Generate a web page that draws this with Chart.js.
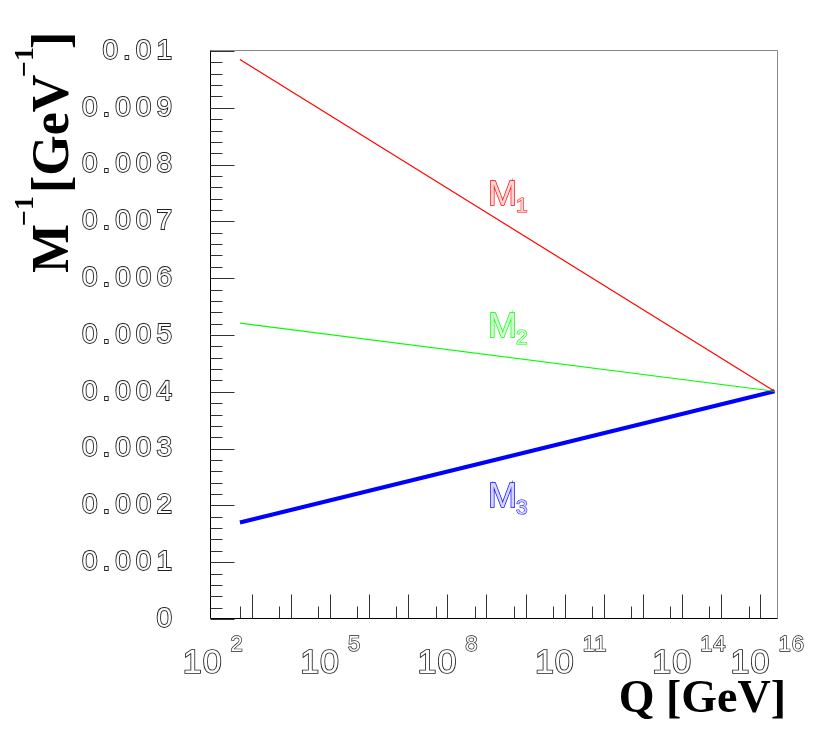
<!DOCTYPE html>
<html>
<head>
<meta charset="utf-8">
<script src="https://cdn.jsdelivr.net/npm/chart.js@4/dist/chart.umd.min.js"></script>
<style>
  html, body { margin: 0; padding: 0; background: #fff; }
</style>
</head>
<body>
<canvas id="chart" width="830" height="733"></canvas>
<script>
// Q in GeV, from the low scale up to the unification point
const qValues = [5e2, 2.3e16];
// inverse gaugino masses in GeV^-1
const m1Inv = [0.00985, 0.00401];
const m2Inv = [0.00521, 0.00401];
const m3Inv = [0.00170, 0.00401];

const seriesSubs = ['1', '2', '3'];
const seriesColors = ['#ff0000', '#00ff00', '#0000ff'];
const seriesFill = ['#ffd6d6', '#d2ffd2', '#d6d6ff'];
const seriesWidths = [1.2, 1.2, 4];

// where the M_i names sit (Q, M^-1 of the text baseline)
const labelQ = [1.09e9, 1.09e9, 1.09e9];
const labelInv = [0.00729, 0.004965, 0.00197];

const qMin = Math.pow(10, 1.96);
const qMax = Math.pow(10, 16.45);

const yTicks = [0, 0.001, 0.002, 0.003, 0.004, 0.005, 0.006, 0.007, 0.008, 0.009, 0.01];
const yTickLabels = ['0', '0.001', '0.002', '0.003', '0.004', '0.005', '0.006', '0.007', '0.008', '0.009', '0.01'];
const xLabelExps = [2, 5, 8, 11, 14, 16];
const xMajorExps = [3, 4, 5, 6, 7, 8, 9, 10, 11, 12, 13, 14, 15, 16];
const xMinorExps = [2, 3, 4, 5, 6, 7, 8, 9, 10, 11, 12, 13, 14, 15]; // 5 x 10^n

const SERIF = '"Liberation Serif", "Times New Roman", serif';
const SANS = '"Liberation Sans", Arial, sans-serif';

function hollowText(ctx, txt, x, y, stroke, fill, w) {
  ctx.lineWidth = w;
  ctx.strokeStyle = stroke;
  ctx.fillStyle = fill;
  ctx.strokeText(txt, x, y);
  ctx.fillText(txt, x, y);
}

const rootFrame = {
  id: 'rootFrame',
  beforeDraw(chart) {
    chart.ctx.letterSpacing = '5px';
  },
  afterDraw(chart) {
    const { ctx, chartArea: a, scales: { x, y } } = chart;
    ctx.save();
    ctx.letterSpacing = '0px';
    const L = a.left - 0.5, B = a.bottom - 0.5, T = a.top - 0.5, R = a.right - 0.5;

    // top and right sides of the frame
    ctx.lineWidth = 1;
    ctx.strokeStyle = '#888';
    ctx.beginPath();
    ctx.moveTo(L, T); ctx.lineTo(R, T); ctx.lineTo(R, B);
    ctx.stroke();

    // axes
    ctx.strokeStyle = '#000';
    ctx.beginPath();
    ctx.moveTo(L, T); ctx.lineTo(L, B); ctx.lineTo(R, B);
    ctx.stroke();

    // y ticks, pointing inward
    ctx.beginPath();
    for (let v = 0; v <= 0.01 + 1e-9; v += 0.0002) {
      const py = Math.round(y.getPixelForValue(v)) + 0.5;
      const major = Math.abs(v * 1000 - Math.round(v * 1000)) < 1e-6;
      ctx.moveTo(L, py);
      ctx.lineTo(L + (major ? 24 : 12), py);
    }
    // x ticks
    xMajorExps.forEach(e => {
      const px = Math.round(x.getPixelForValue(Math.pow(10, e))) + 0.5;
      ctx.moveTo(px, B); ctx.lineTo(px, B - 24);
    });
    xMinorExps.forEach(e => {
      const px = Math.round(x.getPixelForValue(5 * Math.pow(10, e))) + 0.5;
      ctx.moveTo(px, B); ctx.lineTo(px, B - 12);
    });
    ctx.strokeStyle = '#333';
    ctx.stroke();

    // x tick labels: 10 with raised exponent
    ctx.textBaseline = 'alphabetic';
    xLabelExps.forEach(e => {
      const px = x.getPixelForValue(Math.pow(10, e));
      ctx.letterSpacing = '1px';
      ctx.font = '34px ' + SANS;
      ctx.textAlign = 'right';
      hollowText(ctx, '10', px + 10, 673, '#222', '#fff', 1.7);
      ctx.font = '22px ' + SANS;
      ctx.textAlign = 'left';
      hollowText(ctx, String(e), px + 18, 651, '#222', '#fff', 1.4);
    });
    ctx.letterSpacing = '0px';

    // curve names
    labelQ.forEach((q, i) => {
      const px = x.getPixelForValue(q);
      const py = y.getPixelForValue(labelInv[i]);
      ctx.textAlign = 'left';
      ctx.font = '35px ' + SANS;
      hollowText(ctx, 'M', px, py, seriesColors[i], seriesFill[i], 1.4);
      ctx.font = '21px ' + SANS;
      hollowText(ctx, seriesSubs[i], px + 28, py + 7, seriesColors[i], seriesFill[i], 1.1);
    });

    // axis titles
    ctx.fillStyle = '#000';
    ctx.font = 'bold 46px ' + SERIF;
    ctx.textAlign = 'right';
    ctx.fillText('Q [GeV]', 786, 712);

    ctx.translate(68, 273);
    ctx.rotate(-Math.PI / 2);
    ctx.textAlign = 'left';
    ctx.font = 'bold 52px ' + SERIF;
    ctx.fillText('M', 0, 0);
    ctx.fillText('[GeV', 80, 0);
    ctx.fillText(']', 224, 0);
    ctx.font = 'bold 28px ' + SERIF;
    ctx.fillText('\u22121', 47, -35);
    ctx.fillText('\u22121', 196, -35);
    ctx.restore();
  }
};

const mk = (vals, i) => ({
  data: qValues.map((q, k) => ({ x: q, y: vals[k] })),
  borderColor: seriesColors[i],
  borderWidth: seriesWidths[i],
  pointRadius: 0,
  tension: 0,
  fill: false
});

new Chart(document.getElementById('chart'), {
  type: 'line',
  data: { datasets: [mk(m1Inv, 0), mk(m2Inv, 1), mk(m3Inv, 2)] },
  plugins: [rootFrame],
  options: {
    responsive: false,
    animation: false,
    devicePixelRatio: 1,
    layout: { padding: { top: 51, right: 52, left: 0, bottom: 0 } },
    plugins: { legend: { display: false }, tooltip: { enabled: false } },
    scales: {
      x: {
        type: 'logarithmic',
        min: qMin,
        max: qMax,
        ticks: { display: false },
        grid: { display: false, drawTicks: false },
        border: { display: false },
        afterFit: s => { s.height = 114; }
      },
      y: {
        min: 0,
        max: 0.01,
        afterBuildTicks: s => { s.ticks = yTicks.map(v => ({ value: v })); },
        ticks: {
          callback: (v, i) => yTickLabels[i],
          padding: 34,
          color: '#fff',
          textStrokeColor: '#222',
          textStrokeWidth: 1.8,
          font: { family: SANS, size: 28 }
        },
        grid: { display: false, drawTicks: false },
        border: { display: false },
        afterFit: s => { s.width = 211; }
      }
    }
  }
});
</script>
</body>
</html>
